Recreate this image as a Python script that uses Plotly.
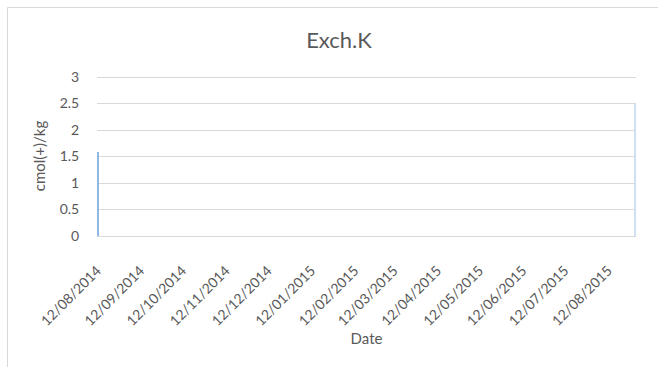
import plotly.graph_objects as go

# Exchangeable potassium samples
dates = ["2014-08-12", "2015-08-31"]
exch_k = [1.58, 2.5]

# Monthly tick marks on the date axis
tick_dates = ["2014-08-12", "2014-09-12", "2014-10-12", "2014-11-12", "2014-12-12",
              "2015-01-12", "2015-02-12", "2015-03-12", "2015-04-12", "2015-05-12",
              "2015-06-12", "2015-07-12", "2015-08-12"]
tick_labels = ["12/08/2014", "12/09/2014", "12/10/2014", "12/11/2014", "12/12/2014",
               "12/01/2015", "12/02/2015", "12/03/2015", "12/04/2015", "12/05/2015",
               "12/06/2015", "12/07/2015", "12/08/2015"]

y_ticks = [0, 0.5, 1, 1.5, 2, 2.5, 3]

DAY_MS = 86400000
FONT = "Lato, 'Open Sans', sans-serif"
TEXT = "#595959"
GRID = "#d9d9d9"

fig = go.Figure()
fig.add_trace(go.Bar(
    x=dates,
    y=exch_k,
    width=DAY_MS,
    offset=0,
    marker=dict(color=["#8fb8e3", "#cfe0f3"], line=dict(width=0)),
    showlegend=False,
))

fig.update_layout(
    width=658,
    height=367,
    margin=dict(l=97, r=22, t=76, b=131),
    paper_bgcolor="white",
    plot_bgcolor="white",
    font=dict(family=FONT, color=TEXT, size=14),
    title=dict(text="Exch.K", x=339 / 658, xanchor="center",
               y=1 - 40 / 367, yanchor="middle",
               font=dict(family=FONT, size=22, color=TEXT)),
    bargap=0,
    shapes=[dict(type="rect", xref="paper", yref="paper",
                 x0=(7.5 - 97) / 539, x1=1.3, y0=-1.2, y1=(236 - 7.5) / 160,
                 line=dict(color=GRID, width=1), fillcolor="rgba(0,0,0,0)", layer="below")],
)

fig.update_xaxes(
    type="date",
    range=["2014-08-12", "2015-09-01"],
    tickvals=tick_dates,
    ticktext=tick_labels,
    tickangle=-45,
    tickfont=dict(size=14, color=TEXT),
    showgrid=False,
    showline=False,
    zeroline=False,
    ticks="outside",
    ticklen=20,
    tickcolor="rgba(0,0,0,0)",
    title=dict(text="Date", standoff=4, font=dict(size=15, color=TEXT)),
)

fig.update_yaxes(
    range=[0, 3.02],
    tickvals=y_ticks,
    tickfont=dict(size=14, color=TEXT),
    showgrid=True,
    gridcolor=GRID,
    gridwidth=1,
    zeroline=True,
    zerolinecolor=GRID,
    zerolinewidth=1,
    showline=False,
    ticks="outside",
    ticklen=14,
    tickcolor="rgba(0,0,0,0)",
    title=dict(text="cmol(+)/kg", standoff=10, font=dict(size=15, color=TEXT)),
)

fig.write_html("out.html")
